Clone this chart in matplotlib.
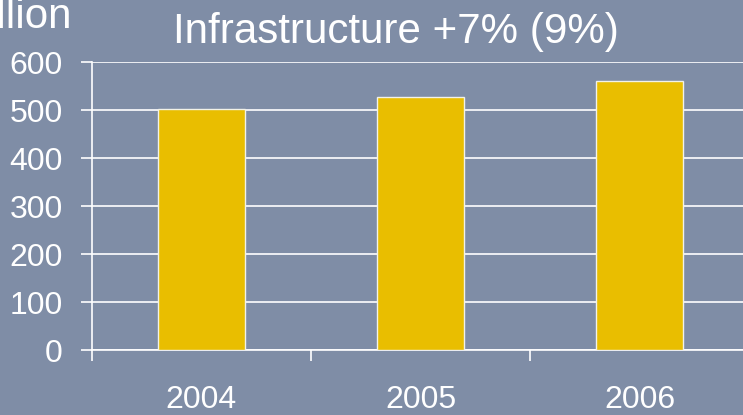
import numpy as np
import matplotlib.pyplot as plt

# Infrastructure spending by year (billion)
years = ['2004', '2005', '2006']
values = [503, 528, 561]
y_ticks = [0, 100, 200, 300, 400, 500, 600]

bg = '#7F8DA6'
bar_color = '#E9BE00'

plt.rcParams['font.family'] = ['Liberation Sans', 'DejaVu Sans']

fig = plt.figure(figsize=(7.43, 4.15), dpi=100, facecolor=bg)
ax = fig.add_axes([92 / 743, 1 - 350 / 415, 657 / 743, 288 / 415])
ax.set_facecolor(bg)

x = np.arange(len(years))
ax.bar(x, values, width=0.4, color=bar_color, edgecolor='#F2F2E8',
       linewidth=1.0, zorder=3)

ax.set_xlim(-0.5, len(years) - 0.5)
ax.set_ylim(0, 600)
ax.set_yticks(y_ticks)
ax.set_yticklabels([str(v) for v in y_ticks])
ax.yaxis.grid(True, color='white', linewidth=1.2, zorder=1)
ax.set_axisbelow(True)

# year labels at the centres, tick marks between categories
ax.set_xticks(x)
ax.set_xticklabels(years)
ax.set_xticks(np.arange(len(years)) - 0.5, minor=True)
ax.tick_params(axis='x', which='major', length=0, pad=25,
               labelsize=23, labelcolor='white')
ax.tick_params(axis='x', which='minor', length=8, width=1.2, color='white')
ax.tick_params(axis='y', length=8, width=1.2, color='white', pad=13,
               labelsize=23, labelcolor='white')

for side in ['top', 'right']:
    ax.spines[side].set_visible(False)
for side in ['left', 'bottom']:
    ax.spines[side].set_color('white')
    ax.spines[side].set_linewidth(1.2)

fig.text(396 / 743, 1 - 43 / 415, 'Infrastructure +7% (9%)', color='white',
         fontsize=30.3, ha='center', va='baseline')
fig.text(72 / 743, 1 - 28.5 / 415, '€ billion', color='white',
         fontsize=30.3, ha='right', va='baseline')

fig.savefig('out.png', dpi=100, facecolor=bg)
